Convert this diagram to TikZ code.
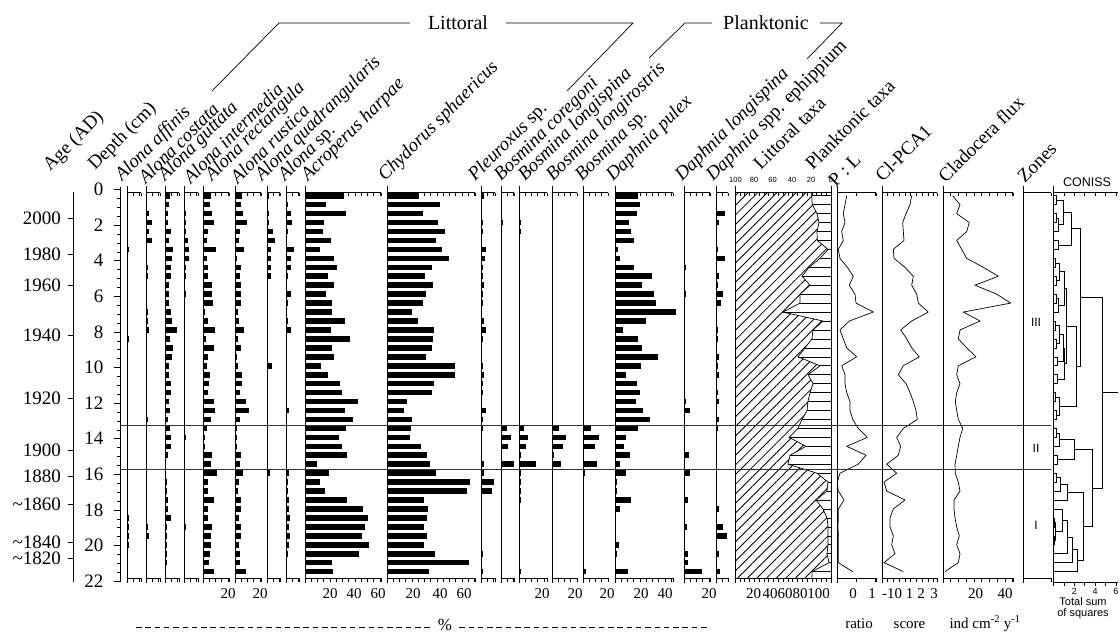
\documentclass[tikz,border=0pt]{standalone}
\usepackage{fontspec}
\setmainfont{Liberation Serif}
\newfontfamily\plainsans{Liberation Sans}
\usetikzlibrary{patterns.meta}

\newcommand\labelsize{\fontsize{19}{21}\selectfont}
\newcommand\headsize{\fontsize{20}{22}\selectfont}
\newcommand\scalesize{\fontsize{15}{17}\selectfont}

\tikzset{
  colbase/.style={line width=0.9pt},
  axisline/.style={line width=0.6pt},
  taxbar/.style={fill=black},
  zoneline/.style={line width=0.8pt, black!80},
  curve/.style={line width=0.7pt, line join=round},
  bracket/.style={line width=0.7pt},
  dendro/.style={line width=0.6pt},
  taxon/.style={rotate=45, anchor=south west, inner sep=0pt, font=\labelsize},
  header/.style={font=\headsize, inner ysep=0pt},
  scalenum/.style={anchor=base, inner sep=0pt, font=\scalesize},
  agenum/.style={anchor=east, inner sep=0pt, font=\labelsize},
  smallsans/.style={inner sep=0pt, font=\plainsans\fontsize{7.5}{8}\selectfont},
  zonelabel/.style={inner sep=0pt, font=\plainsans\fontsize{12}{13}\selectfont},
}

% x0, x1, tick step (all in px)
\newcommand\colaxis[3]{%
  \draw[colbase] (#1,186) -- (#1,583);
  \draw[axisline] (#1,192.5) -- (#2,192.5) (#1,578) -- (#2,578);
  \pgfmathsetmacro\nexttick{#1+#3}
  \foreach \t in {#1,\nexttick,...,#2}
    \draw[axisline] (\t,192.5) -- ++(0,3.5) (\t,578) -- ++(0,3.5);
  \draw[axisline] (#2,192.5) -- ++(0,3.5) (#2,578) -- ++(0,3.5);
}
% baseline x, bar lengths (px), one per sample
\newcommand\barcolumn[2]{%
  \foreach \len [count=\row from 0] in {#2}
    \fill[taxbar] (#1,{195.7+8.95*\row-2.8}) rectangle ++(\len,5.6);
}
% first value, remaining values
\newcommand\profile[2]{%
  \draw[curve] (#1,195.7) \foreach \v [count=\row from 1] in {#2} { -- (\v,{195.7+8.95*\row}) };
}
% h1, y1, h2, y2, h
\newcommand\cmerge[5]{\draw[dendro] (#1,#2) -- (#5,#2) -- (#5,#4) -- (#3,#4);}

\def\littoralcurve{811.7,812.3,817,819,817,817.3,828,820,809,802,810,800,800,783,823,813,812,805,798,820,808,813,810,808,807,802,798,789,806,790,788,817,828,827,816,823,827,828,828,828,827,829,812}

\begin{document}
\begin{tikzpicture}[x=1pt, y=-1pt]
\useasboundingbox (0,0) rectangle (1120,633);

% group headers
\node[header, inner xsep=18pt] (littoral) at (458,23) {Littoral};
\node[header, inner xsep=11pt] (planktonic) at (766,23) {Planktonic};
\coordinate (litleft) at (212,91);
\coordinate (litleftknee) at (279,23);
\coordinate (litrightknee) at (633,23);
\coordinate (litright) at (567,91);
\coordinate (plkleft) at (649,58);
\coordinate (plkleftknee) at (685,23);
\coordinate (plkrightknee) at (842,23);
\coordinate (plkright) at (807,59);
\draw[bracket] (litleft) -- (litleftknee) -- (littoral.west);
\draw[bracket] (littoral.east) -- (litrightknee) -- (litright);
\draw[bracket] (plkleft) -- (plkleftknee) -- (planktonic.west);
\draw[bracket] (planktonic.east) -- (plkrightknee) -- (plkright);

% column labels
\node[taxon] (lab-age) at (53,175) {Age (AD)};
\node[taxon] (lab-depth) at (98,174) {Depth (cm)};
\foreach \x/\name/\txt in {125/affinis/{\textit{Alona affinis}}, 146/costata/{\textit{Alona costata}},
    168/guttata/{\textit{Alona guttata}}, 191/intermedia/{\textit{Alona intermedia}},
    215/rectangula/{\textit{Alona rectangula}}, 238/rustica/{\textit{Alona rustica}},
    265/quadrangularis/{\textit{Alona quadrangularis}}, 288/alonasp/{\textit{Alona} sp.},
    311/acroperus/{\textit{Acroperus harpae}}, 388/chydorus/{\textit{Chydorus sphaericus}},
    478/pleuroxus/{\textit{Pleuroxus} sp.}, 504/coregoni/{\textit{Bosmina coregoni}},
    528/longispina/{\textit{Bosmina longispina}}, 556/longirostris/{\textit{Bosmina longirostris}},
    585/bosminasp/{\textit{Bosmina} sp.}, 616/pulex/{\textit{Daphnia pulex}},
    685/dlongispina/{\textit{Daphnia longispina}}, 716/ephippium/{\textit{Daphnia} spp. ephippium}}
  \node[taxon] (lab-\name) at (\x,185) {\txt};
\node[taxon] (lab-littoral) at (761,171) {Littoral taxa};
\node[taxon] (lab-planktonic) at (813,171) {Planktonic taxa};
\node[taxon] (lab-pl) at (836,188) {P : L};
\node[taxon] (lab-pca) at (883,183) {Cl-PCA1};
\node[taxon] (lab-flux) at (946,184) {Cladocera flux};
\node[taxon] (lab-zones) at (1025,184) {Zones};

% age axis
\draw[axisline] (73,192) -- (73,582);
\foreach \yr/\yy [count=\i] in {2000/218, 1980/254.5, 1960/285.5, 1940/335.5, 1920/398, 1900/450, 1880/476,
    {\textasciitilde1860}/504, {\textasciitilde1840}/542, {\textasciitilde1820}/558} {
  \draw[axisline] (73,\yy) -- ++(-5,0);
  \node[agenum] (age\i) at (61,\yy) {\yr};
}

% depth axis
\draw[colbase] (120,187) -- (120,582);
\foreach \d in {0,0.5,...,22} \draw[axisline] (120,{189.5+17.8*\d}) -- ++(-3,0);
\foreach \d in {0,2,...,22} {
  \draw[axisline] (120,{189.5+17.8*\d}) -- ++(-6,0);
  \node[agenum] (depth\d) at (103.5,{189.5+17.8*\d}) {\d};
}

% littoral / planktonic percentages
\fill[pattern={Lines[angle=45, distance=6.8pt, line width=0.85pt]}, pattern color=black]
  (735,192.5) -- (811.7,192.5) \foreach \v [count=\row from 0] in \littoralcurve { -- (\v,{195.7+8.95*\row}) }
  -- (812,578) -- (735,578) -- cycle;
\draw[curve] (811.7,192.5) \foreach \v [count=\row from 0] in \littoralcurve { -- (\v,{195.7+8.95*\row}) } -- (812,578);
\foreach \v [count=\row from 0] in \littoralcurve
  \draw[axisline] (\v,{195.7+8.95*\row}) -- (831,{195.7+8.95*\row});
\draw[colbase] (831,186) -- (831,583);

% column axes
\foreach \xa/\xb/\st in {127/141/6.25, 146/160/6.25, 165/179/6.25, 184/198/6.25, 203/229/6.25,
    235/261/6.25, 267/280/6.25, 286/299/6.25, 305/381/6.25, 387/475/6.25, 481/495/6.25,
    501/514/6.25, 519/547/6.25, 552/577/6.25, 583/608/6.25, 615/673/6.25, 684/710/6.25,
    716/728/6.25, 735/831/4.8, 837/876/19, 882/937/5.75, 943/1013/7.75, 1023/1051/28}
  \colaxis{\xa}{\xb}{\st};

% taxa bars
\barcolumn{127}{1,0,1,1,1,1,2,1,1,1,1,1,1,1,1,1,2.3,1,1,1,1,1,1,1,1,1,1,1,1,1,1,1,1,1,1,1,1.5,2,2.3,2,1,0,0}
\barcolumn{146}{1,1.3,3.3,5.7,3.3,5.7,1.3,0.7,2,2,1.3,1.3,1.3,2.3,2.3,3.3,1.3,1.3,1.3,1.3,1.3,1.3,1.3,1.3,1.3,2,1,1,1,1,1,1,1,1.3,1.3,1.3,1.3,2.3,3.3,1.3,1.3,1,1}
\barcolumn{165}{5,4.3,3.3,3.3,5.7,4.3,7.7,6.7,6,5.7,4.3,4.3,3.7,5.7,6.7,12.3,5,7.7,6.7,3.7,3.7,6,5.7,4.3,5,3.3,5,5.7,5.7,3.3,1,1,1.7,1.7,3.3,3.3,5.7,1.7,1.7,2.3,2.3,1.7,1}
\barcolumn{184}{0.7,1.3,2.3,2.3,1.7,4,5,5,2.3,1.7,0.7,1.7,0.7,0.7,0.7,0.7,0.7,0.7,0.7,0.7,0.7,0.7,0.7,0.7,0.7,0.7,0.7,1.7,0.7,0.7,0,0,0,0,1,0,1,1.7,0,0,0,0,0}
\barcolumn{203}{8.3,6.7,9.3,11,5,4,13.3,4.3,5,5,9.3,8.7,10,2,5,12,3.3,11,4.7,4,7,6,4.7,11,11.7,7.7,4.3,2,2,9.3,8,13.7,5.3,5,10.7,5.3,5,9,8.3,8.3,6.7,6,10.7}
\barcolumn{235}{6.7,6,7.7,12,5,4,9,2.3,6,5,5.7,5.7,5.7,2.7,4.3,9,2.7,5.7,1.7,2.7,7,7.3,5,10.7,14.3,5,2.3,1.7,1.7,5.7,5.3,8.3,4,3,5.7,5.7,3.7,6,5.7,3.7,5,5,11}
\barcolumn{267}{2.3,1.3,2,2,5.7,8.3,4,4,4,4.3,1,1,1,1,1,1,1,1,1,5,1,1,1,1,1,1,1,1,1,1,1,3.3,1,1,1,1,1,1,1,1,1,1,1}
\barcolumn{286}{0.7,2.3,5,5.7,2.3,1.3,8,4.7,4.7,2.3,0.7,4.7,2.3,0.7,1.7,4.7,0.7,0.7,0.7,0.7,0.7,0.7,1,0.7,3.3,0.7,0.7,0.7,0.7,0.7,0.7,3.3,1.7,1.7,3.3,3.3,4.3,3.3,4,3.3,2.3,1.3,1.3}
\barcolumn{305}{39,21,41,19,18,26,15,29,32,23,29,21,27,27,40,26,45,27,29,16,23,35,37,53,40,48,41,34,37,42,12,24,15,20,42,58,63,60,57,64,54,27,28}
\barcolumn{387}{32,53,36,51,58,49,55,62,45,38,46,39,36,25,31,47,46,45,39,68,68,47,45,20,17,25,24,23,34,40,43,49,83,80,37,41,40,37,40,37,48,82,42}
\barcolumn{481}{2.5,0,0,1.5,1.5,0,5,3.5,1.5,1.5,2.5,2,1.5,0,3,5,1.5,0,0,1.5,2.5,2,1.5,0,5,1.5,1.5,0,0,0,2.5,3,12.5,11,0,0,0,0,0,0,1.5,0,1.5}
\barcolumn{501}{0,0,0,1.5,0,0,0,0,0,0,0,0,0,0,0,0,0,0,0,0,0,0,0,0,0,0,5.7,9.7,6.7,0,12.7,1,1,1,0,0,0,0,0,0,1,1,0}
\barcolumn{519}{0,0,0,2,2,0,0,0,0,0,0,0,0,0,0,0,0,0,0,0,0,0,0,0,0,0,5,9.3,7.3,1.5,16.7,2.3,1.5,1.5,1.5,0,0,0,0,0,0,0,1.5}
\barcolumn{552}{0,0,0,0,1,0,0,0,0,0,0,0,0,0,0,0,0,0,0,0,1,0,0,0,0,0,7.3,14.3,11,2,8.7,0,0,0,0,0,1,0,1,1,0,0,0}
\barcolumn{583}{0,0,0,0,0,0,0,0,0,1,0,0,0,1,1,0,0,1,0,0,1,0,0,0,0,0,8.3,16,12.3,1,14.3,2,0,0,0,0,0,0,0,1,0,0,2.7}
\barcolumn{615}{23.3,25.3,22,13.7,16,18.7,3.3,4.7,19.3,37,26.7,39,41,60.7,31,7.7,22.7,26.7,43,26,11.3,22,25.3,21.3,28,34.7,22.7,11.3,8.7,15.3,4.7,11.3,1.7,1.7,16,4.7,0.7,0.7,0.7,4,2,0.7,13.3}
\barcolumn{684}{0.8,0.8,0,0.8,0.8,0.8,0.8,0.8,2,0.8,0.8,2,0.8,0.8,0.8,0.8,0.8,0.8,0.8,0.8,0.8,0.8,0.8,2,5.7,0.8,0.8,0.8,0.8,4.7,0.8,5.7,0.8,0.8,4.3,0.8,0.8,3,0.8,0.8,4,4,17.7}
\barcolumn{716}{0,0,9.3,3,0,0,1.7,9.3,0,3,1.7,7.3,4.7,0,0,1.7,1.7,0,3,1.7,3,0,1.7,3,0,3,1.7,1,0,0,0,0,0,0,0,3,0,6.7,10.7,1,3,1,3.7}

% ratio, score and flux profiles
\profile{846.7}{845,843.3,845,841.7,843.3,838.3,840,847.3,853.3,849.3,855,856,873.3,849.3,840,843.3,846.7,856.7,841.7,845,845,846.7,850,850,852.7,858.3,867.3,846.7,866,858.3,840,837.3,838.3,844,838.3,838.3,838,838.3,838.3,838.3,838.3,852.7}
\profile{911.7}{910,906,902.7,903.3,904,893.3,894,905,913.3,911.7,916.7,918.3,928.3,911.7,900.7,906.7,911.7,919.3,903.3,898.3,906,910,913.3,916,917.3,903.3,896.7,900.7,898.3,886.7,896.7,884,886.7,905,893.3,890,890,893.3,891.7,895,884,903.3}
\profile{952.7}{960,956.7,969.3,966.7,956.7,961.7,966.7,983.3,998.3,975,996.7,1010.7,963.3,980,960,958.3,966.7,976,958.3,956.7,960,956.7,955.3,956.7,958.3,962.7,960,958.3,956.7,955,955.3,958.3,960,954,954,955,956.7,959.3,956.7,960,958.3,945}

% CONISS
\draw[colbase] (1053,186) -- (1053,585);
\draw[axisline] (1053,192.5) -- (1118,192.5) (1053,582) -- (1118,582);
\foreach \u in {0,...,6}
  \draw[axisline] ({1053.5+10.4*\u},192.5) -- ++(0,3.5) ({1053.5+10.4*\u},582) -- ++(0,3.5);
\node[inner sep=0pt, font=\plainsans\fontsize{12.5}{13}\selectfont] (coniss) at (1087,182) {CONISS};
\foreach \u in {2,4,6}
  \node[smallsans, font=\plainsans\fontsize{9}{10}\selectfont] (conissnum\u) at ({1053.5+10.4*\u},591) {\u};
\node[inner sep=0pt, font=\plainsans\fontsize{11}{12}\selectfont, align=center] (sumsq) at (1083,608.5) {Total sum\\[-1pt]of squares};
\begin{scope}[xshift=1053.5pt, yshift=-195.7pt, x=10.4pt, y=-8.95pt]
  \cmerge{0}{0}{0}{1}{0.3}
  \cmerge{0}{2}{0}{3}{0.25}
  \cmerge{0.25}{2.5}{0}{4}{0.5}
  \cmerge{0.3}{0.5}{0.5}{3.25}{0.9}
  \cmerge{0}{5}{0}{6}{0.5}
  \cmerge{0.9}{1.875}{0.5}{5.5}{1.7}
  \cmerge{0}{7}{0}{8}{0.2}
  \cmerge{0}{9}{0}{10}{0.3}
  \cmerge{0.2}{7.5}{0.3}{9.5}{0.6}
  \cmerge{0}{11}{0}{12}{0.3}
  \cmerge{0.3}{11.5}{0}{13}{0.5}
  \cmerge{0.6}{8.5}{0.5}{12.25}{1.0}
  \cmerge{0}{14}{0}{15}{0.2}
  \cmerge{0}{16}{0}{17}{0.3}
  \cmerge{0.2}{14.5}{0.3}{16.5}{0.6}
  \cmerge{0}{18}{0}{19}{0.4}
  \cmerge{0.6}{15.5}{0.4}{18.5}{0.9}
  \cmerge{0}{20}{0}{21}{0.4}
  \cmerge{0.9}{17}{0.4}{20.5}{1.05}
  \cmerge{1.0}{10.375}{1.05}{18.75}{1.2}
  \cmerge{0}{22}{0}{23}{0.2}
  \cmerge{0}{24}{0}{25}{0.3}
  \cmerge{0.2}{22.5}{0.3}{24.5}{0.6}
  \cmerge{1.2}{14.5625}{0.6}{23.5}{2.2}
  \cmerge{1.7}{3.6875}{2.2}{19.03}{2.6}
  \cmerge{0}{26}{0}{27}{0.25}
  \cmerge{0.25}{26.5}{0}{28}{0.6}
  \cmerge{0}{29}{0}{30}{0.35}
  \cmerge{0.6}{27.25}{0.35}{29.5}{2.0}
  \cmerge{0}{31}{0}{32}{0.3}
  \cmerge{0.3}{31.5}{0}{33}{0.7}
  \cmerge{0.7}{32.25}{0}{34}{1.3}
  \cmerge{0}{36}{0}{37}{0.08}
  \cmerge{0}{38}{0}{39}{0.08}
  \cmerge{0.08}{36.5}{0.08}{38.5}{0.15}
  \cmerge{0}{35}{0.15}{37.5}{0.8}
  \cmerge{0.8}{36.25}{0}{40}{1.3}
  \cmerge{1.3}{38.125}{0}{41}{1.8}
  \cmerge{1.8}{39.5625}{0}{42}{2.3}
  \cmerge{1.3}{33.125}{2.3}{40.78}{2.9}
  \cmerge{2.0}{28.375}{2.9}{36.95}{3.7}
  \cmerge{2.6}{11.36}{3.7}{32.66}{4.7}
  \draw[dendro] (4.7,22.01) -- (6.2,22.01);
\end{scope}

% zone boundaries
\draw[zoneline] (120,425) -- (1051,425);
\draw[zoneline] (120,469.5) -- (1051,469.5);
\node[zonelabel] (zoneIII) at (1036,322) {III};
\node[zonelabel] (zoneII) at (1036,448) {II};
\node[zonelabel] (zoneI) at (1036,525) {I};

% scale numbers
\foreach \x/\n [count=\i] in {228/20, 260/20, 330/20, 354/40, 378/60, 413/20, 440/40, 464/60, 542/20,
    575/20, 607/20, 641/20, 665/40, 709/20, 753.5/20, 770/40, 785/60, 800/80, 818.5/100, 853/0,
    872/1, 892/-10, 909.5/1, 921/2, 934/3, 975.5/20, 1005/40}
  \node[scalenum] (scale\i) at (\x,598) {\n};
\foreach \x/\n [count=\i] in {735.5/100, 754/80, 772.5/60, 792/40, 811/20, 831/0}
  \node[smallsans] (plkscale\i) at (\x,180) {\n};

% units
\node[scalenum] (unitratio) at (859,628) {ratio};
\node[scalenum] (unitscore) at (909.5,628) {score};
\node[scalenum] (unitflux) at (985,628) {ind cm\textsuperscript{-2} y\textsuperscript{-1}};
\node[inner xsep=7pt, inner ysep=0pt, font=\fontsize{17}{18}\selectfont] (percent) at (445,625) {\%};
\draw[axisline, dash pattern=on 5.5pt off 3.8pt] (136,627) -- (percent.west |- 0,627);
\draw[axisline, dash pattern=on 5.5pt off 3.8pt] (percent.east |- 0,627) -- (710,627);
\end{tikzpicture}
\end{document}
